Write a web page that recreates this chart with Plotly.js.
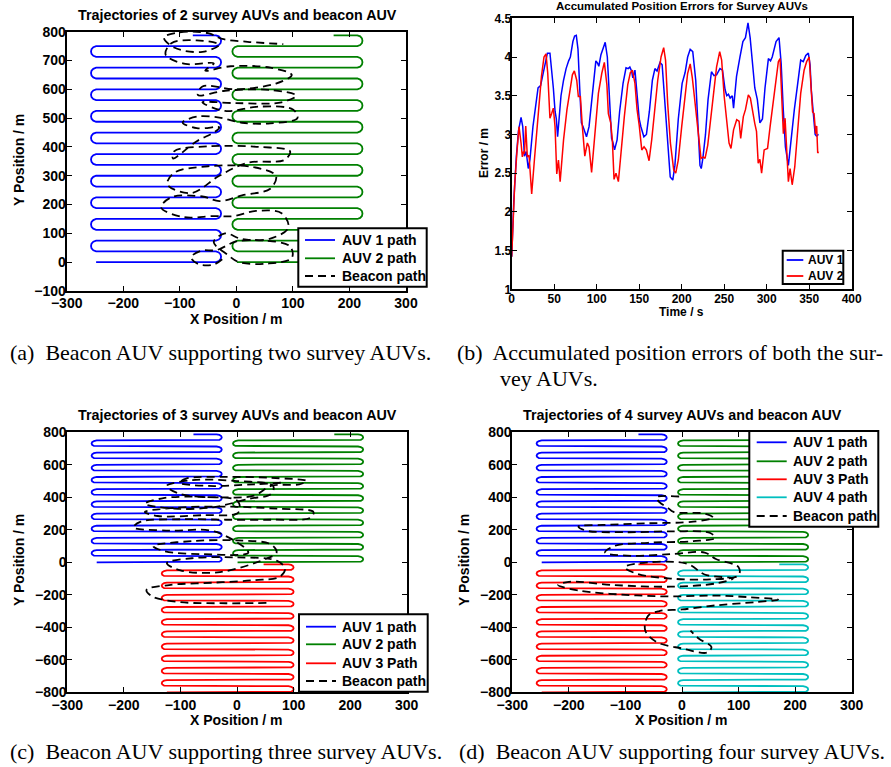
<!DOCTYPE html>
<html><head><meta charset="utf-8">
<script src="https://cdn.plot.ly/plotly-3.0.1.min.js"></script>
<style>html,body{margin:0;padding:0;background:#fff;}#chart{width:891px;height:767px;}</style>
</head><body><div id="chart"></div>
<script>
// ---------- data ----------
const upperLanesY = [0, 37.5, 75, 112.5, 150, 187.5, 225, 262.5, 300, 337.5, 375, 412.5, 450, 487.5, 525, 562.5, 600, 637.5, 675, 712.5, 750, 787.5];
const lowerLanesY = [-800, -762.5, -725, -687.5, -650, -612.5, -575, -537.5, -500, -462.5, -425, -387.5, -350, -312.5, -275, -237.5, -200, -162.5, -125, -87.5, -50, -12.5];
// lawnmower x: [start x, west lane end, east lane end, final x]
const leftBlockX = [-248, -248, -36, -77];
const rightBlockX = [1, 2, 214, 172];
const midBlockX = [-124, -124, 91, 47];

// (a) beacon path
const beaconAx = [-25,-40,-68,-80,-62,-35, 0,50,95,98,55,5,-15,-40,-20, 10,60,92,80,35,-5, -40,-95,-133,-115,-60,-30, 10,60,70,30,-50,-110,-122,-80,-30, 20,85,95,40,-50,-110,-112,-70,-40, -30,-70,-95,-70,-30, 10,60,108,100,40,-20, -60,0,80,106,60,-20,-68, -60,0,70,98,60,-10,-55, -40,-90,-125,-115,-70,-30,-60,-110,-128,-100,-50,-25, 20,83];
const beaconAy = [10,-8,-6,17,40,42, 72,75,55,15,-5,0,25,70,100, 80,82,120,170,178,160, 160,157,190,225,228,212, 232,255,300,330,333,310,270,240,300, 345,355,385,400,402,385,360,420,450, 468,465,485,505,502, 484,482,500,530,540,525, 555,552,555,578,598,595,580, 610,600,620,650,675,680,665, 690,688,720,760,770,755,730,745,780,798,795,775, 765,757];
// (c) beacon path
const beaconCx = [52,-20,-100,-150,-160,-120,-40,30, 75,85,70,0,-80,-124,-100,-30, 50,70,60,0,-80,-148,-130,-60,20, -40,-120,-183,-170,-100,-20, 60,130,135,70,-20,-110,-163,-140,-60,0, 5,0,-60,-130,-163,-110,-40, 20,60,64,0,-80,-124,-100,-30,30, 60,110,123,60,-20,-90,-101,-50,30,80];
const beaconCy = [-250,-252,-245,-210,-170,-140,-125,-110, -90,-40,10,30,25,-5,-50,-60, 20,60,110,135,130,100,70,50,60, 190,195,215,250,265,262, 262,275,310,330,343,335,310,285,290,300, 330,380,402,395,360,330,340, 390,420,470,500,505,470,420,400,410, 470,480,500,520,526,515,490,470,480,490];
// (d) beacon path
const beaconDx = [-5,-45,-40,-25,-15, 40,55,20,-60,-140,-183,-170,-100,-20,50, 58,20,-60,-120,-136,-90,-20,40, 60,100,100,50,-20,-80,-101,-60,10, 40,90,60,-20,-120,-200,-219,-180,-100,-20,60, 120,170,130,60,0,-40, -60,-65,-45,0,45,52,30,15];
const beaconDy = [405,400,370,335,310, 300,275,250,240,230,220,195,185,190,180, 150,130,120,100,60,40,50,60, 20,-30,-80,-105,-100,-70,-30,0,-10, -75,-100,-130,-150,-140,-120,-140,-175,-200,-210,-205, -215,-230,-245,-265,-290,-300, -330,-420,-490,-530,-555,-520,-470,-420];

// (b) accumulated position errors
const timeAuv1 = [0,2.5,5.5,8,11,13,15,17,19.5,21.5,25,28,31,34,37,39.5,42,45,47,49,51,52.5,54,56,58,61,64,67,69,72,74,76,78,80,82,84,86,88,91,94,96,99,101,102.5,105,108,110,112.5,114.5,116,117.5,119,121,124,127,131,134.5,137,139,141,142.5,145,148,150,152,155.5,158.5,162,165.5,168.5,171,174.5,177,180,183.5,186.5,189.5,192,196,200.5,204,207,210,213,216.5,219,221.5,223,225,228,231,235,238,241,245,248,251,253,255,257,259.5,261,264.5,268.5,272,275,278,280.5,283,286,289,292,295,298,302,304.5,306.5,308.5,311,314.5,317,319.5,322,325.5,328.5,332.5,336.5,340,343,346,349,351,352.5,355,357,358.5,361];
const errorAuv1 = [1.42,2.15,2.72,3.05,3.22,3.1,2.72,2.78,2.56,2.68,3.1,3.35,3.6,3.63,3.8,3.95,4.05,4.05,3.85,3.6,3.3,3.2,2.97,3.2,3.5,3.7,3.85,3.95,4.0,4.2,4.27,4.28,4.1,3.6,3.15,3.1,3.04,2.97,3.1,3.4,3.66,3.95,3.92,3.88,4.03,4.12,4.19,4.0,3.6,3.3,2.95,2.9,2.8,2.93,3.3,3.66,3.86,3.85,3.87,3.82,3.73,3.83,3.45,3.2,3.1,2.97,3.0,3.3,3.7,3.85,3.82,3.93,3.9,3.45,2.84,2.45,2.41,2.6,3.2,3.66,3.8,4.0,4.1,4.07,3.7,3.2,2.6,2.56,2.7,3.0,3.45,3.81,3.76,3.77,3.85,3.83,3.58,3.5,3.52,3.47,3.5,3.34,3.75,4.0,4.2,4.25,4.44,4.25,3.96,3.6,3.45,3.15,3.2,3.6,3.98,3.95,4.0,4.1,4.2,4.25,3.92,3.32,2.84,2.6,2.93,3.32,3.66,3.96,3.94,4.02,4.05,3.9,3.57,3.2,3.0,2.98,3.0];
const timeAuv2 = [0,3.5,6,8.6,11,12.5,14,15,16.5,18.4,20.4,23.5,26.7,30.6,35,38,40.4,42.4,45,47,49,51,53,55,57,61,65,68.6,71.4,73.7,76.5,78.4,80.8,83,86,89,91,94,98,102,106,109,112,113.7,116.5,118.4,120.4,122.7,125.5,128.6,132.5,136.5,139.6,142,145,147.5,150,153,155.7,158.4,161.6,164.7,168.6,171.8,175.7,178.8,181,183.5,186.7,189,190.6,193,196,200,204,207,210,212.5,214.9,217.6,220.4,222.7,225.5,227.5,230.6,233,237,241,244.7,247,250,253,255.7,258,261,264.7,267.5,269.4,272.5,275,278.4,280.8,283,286,288,290,292,294,297,301,304,308,311,313.7,315.7,317.6,319.6,321.6,323.5,325.5,327.5,330,333,336.5,340,344,347,350,352,354,355.7,357.6,358.8,360,361];
const errorAuv2 = [1.42,2.35,2.75,3.1,2.89,2.71,2.78,2.75,3.11,2.71,2.73,2.23,2.67,3.23,3.75,4.0,4.04,3.79,3.21,3.27,3.34,3.1,2.49,2.67,2.39,2.93,3.32,3.57,3.77,3.82,3.7,3.49,3.49,3.12,2.72,2.89,2.84,2.51,3.06,3.53,3.79,3.93,3.64,3.27,3.15,2.93,2.42,2.5,2.39,2.8,3.23,3.64,3.8,3.83,3.66,3.32,3.12,2.8,2.84,2.8,2.66,2.93,3.32,3.7,4.0,4.12,3.96,3.4,2.89,2.63,2.54,2.5,2.67,3.1,3.49,3.79,3.91,3.73,3.49,3.19,2.89,2.69,2.71,2.69,2.86,3.1,3.53,3.87,4.07,3.96,3.49,3.14,2.89,2.82,3.06,3.19,3.17,2.95,3.23,3.32,3.51,3.47,3.32,3.14,3.04,2.63,2.68,2.5,2.8,2.82,3.1,3.45,3.73,3.94,3.98,3.57,3.01,3.21,2.76,2.39,2.56,2.35,2.58,3.06,3.53,3.83,3.94,4.0,3.66,3.29,3.27,3.01,3.11,2.76,2.78];

// tick values
const trajXTicks = [-300,-200,-100,0,100,200,300];
const trajAYTicks = [-100,0,100,200,300,400,500,600,700,800];
const trajCDYTicks = [-800,-600,-400,-200,0,200,400,600,800];
const timeTicks = [0,50,100,150,200,250,300,350,400];
const errorTicks = [1,1.5,2,2.5,3,3.5,4,4.5];

// legend labels
const legendA = ['AUV 1 path', 'AUV 2 path', 'Beacon path'];
const legendB = ['AUV 1', 'AUV 2'];
const legendC = ['AUV 1 path', 'AUV 2 path', 'AUV 3 Path', 'Beacon path'];
const legendD = ['AUV 1 path', 'AUV 2 path', 'AUV 3 Path', 'AUV 4 path', 'Beacon path'];

// ---------- helpers ----------
const W = 891, H = 767;
const SANS = 'Liberation Sans, Arial, Helvetica, sans-serif';
const SERIF = 'Liberation Serif, Times New Roman, serif';
const BLUE = '#0000ff', GREEN = '#008000', RED = '#ff0000', CYAN = '#00bfbf';
const BEACON_DASH = '8px,5px';

function lawnmower(lanes, xs4, bulge) {
  const [xFirst, xWest, xEast, xLast] = xs4;
  const X = [], Y = [];
  const turn = [[0.55,0.1],[0.9,0.28],[1,0.5],[0.9,0.72],[0.55,0.9]];
  for (let i = 0; i < lanes.length; i++) {
    const east = i % 2 === 0;
    const xa = i === 0 ? xFirst : (east ? xWest : xEast);
    const xb = i === lanes.length - 1 ? xLast : (east ? xEast : xWest);
    X.push(xa, xb); Y.push(lanes[i], lanes[i]);
    if (i < lanes.length - 1) {
      const d = lanes[i+1] - lanes[i], s = east ? 1 : -1;
      turn.forEach(([fx, fy]) => { X.push(xb + s*bulge*fx); Y.push(lanes[i] + d*fy); });
    }
  }
  return {x: X, y: Y};
}
function pathTrace(p, color, name, xa, ya) {
  return {type:'scatter', mode:'lines', x:p.x, y:p.y, name, xaxis:xa, yaxis:ya,
          line:{color, width:1.8}, hoverinfo:'skip', showlegend:false};
}
function beaconTrace(x, y, xa, ya) {
  return {type:'scatter', mode:'lines', x, y, name:'Beacon path', xaxis:xa, yaxis:ya, showlegend:false,
          line:{color:'black', width:1.8, dash:BEACON_DASH, shape:'spline', smoothing:1}, hoverinfo:'skip'};
}
function axis(dom, range, ticks, anchor, fs, standoff) {
  return {domain:dom, range, tickvals:ticks, anchor, showline:true, linewidth:2, linecolor:'black',
          mirror:'ticks', ticks:'inside', ticklen:5, tickwidth:1, tickcolor:'black', showgrid:false,
          zeroline:false, fixedrange:true, ticklabelstandoff:standoff,
          tickfont:{family:SANS, size:fs, color:'black', weight:'bold'}};
}
const px = v => v / W, py = v => 1 - v / H;
function ann(text, x, y, opts) {
  return Object.assign({text, x:px(x), y:py(y), xref:'paper', yref:'paper', showarrow:false,
    xanchor:'center', yanchor:'middle', font:{family:SANS, size:14, color:'black', weight:'bold'}}, opts||{});
}
const shapes = [], annotations = [];
// legend drawn as a boxed key: box [x0,y0,x1,y1], sample line x range, text x, row centres
function addKey(labels, colors, box, lineX, textX, rows, fs) {
  shapes.push({type:'rect', xref:'paper', yref:'paper', layer:'above', x0:px(box[0]), x1:px(box[2]), y0:py(box[1]), y1:py(box[3]),
               fillcolor:'white', line:{color:'black', width:2}});
  labels.forEach((lab, i) => {
    const isBeacon = colors[i] === 'black';
    shapes.push({type:'line', xref:'paper', yref:'paper', layer:'above', x0:px(lineX[0]), x1:px(lineX[1]), y0:py(rows[i]), y1:py(rows[i]),
                 line:{color:colors[i], width:isBeacon ? 2 : 1.8, dash:isBeacon ? BEACON_DASH : 'solid'}});
    annotations.push(ann(lab, textX, rows[i], {xanchor:'left', font:{family:SANS, size:fs, color:'black', weight:'bold'}}));
  });
}

const BULGE = 9;
const traces = [
  // (a)
  pathTrace(lawnmower(upperLanesY, leftBlockX, BULGE), BLUE, 'AUV 1 path', 'x', 'y'),
  pathTrace(lawnmower(upperLanesY, rightBlockX, BULGE), GREEN, 'AUV 2 path', 'x', 'y'),
  beaconTrace(beaconAx, beaconAy, 'x', 'y'),
  // (b)
  {type:'scatter', mode:'lines', x:timeAuv1, y:errorAuv1, name:'AUV 1', xaxis:'x2', yaxis:'y2', showlegend:false, line:{color:BLUE, width:1.5}},
  {type:'scatter', mode:'lines', x:timeAuv2, y:errorAuv2, name:'AUV 2', xaxis:'x2', yaxis:'y2', showlegend:false, line:{color:RED, width:1.5}},
  // (c)
  pathTrace(lawnmower(upperLanesY, leftBlockX, BULGE), BLUE, 'AUV 1 path', 'x3', 'y3'),
  pathTrace(lawnmower(upperLanesY, rightBlockX, BULGE), GREEN, 'AUV 2 path', 'x3', 'y3'),
  pathTrace(lawnmower(lowerLanesY, midBlockX, BULGE), RED, 'AUV 3 Path', 'x3', 'y3'),
  beaconTrace(beaconCx, beaconCy, 'x3', 'y3'),
  // (d)
  pathTrace(lawnmower(upperLanesY, leftBlockX, BULGE), BLUE, 'AUV 1 path', 'x4', 'y4'),
  pathTrace(lawnmower(upperLanesY, rightBlockX, BULGE), GREEN, 'AUV 2 path', 'x4', 'y4'),
  pathTrace(lawnmower(lowerLanesY, leftBlockX, BULGE), RED, 'AUV 3 Path', 'x4', 'y4'),
  pathTrace(lawnmower(lowerLanesY, rightBlockX, BULGE), CYAN, 'AUV 4 path', 'x4', 'y4'),
  beaconTrace(beaconDx, beaconDy, 'x4', 'y4'),
];

addKey(legendA, [BLUE, GREEN, 'black'], [298.3, 228.3, 426.7, 286.7], [305, 335], 340, [240, 258.3, 276], 14);
addKey(legendB, [BLUE, RED], [782.7, 250.7, 843.3, 284], [786.7, 803.3], 806, [260, 276], 12);
addKey(legendC, [BLUE, GREEN, RED, 'black'], [299, 614.3, 427.7, 691.7], [306, 336], 340, [626.7, 644.3, 663.3, 681], 14);
addKey(legendD, [BLUE, GREEN, RED, CYAN, 'black'], [749.3, 431, 878.3, 526.7], [756.7, 786.7], 790.7, [442.3, 461.3, 479.3, 497.3, 516], 14);

const dA = [[px(66.7), px(406)], [py(291), py(31.7)]];
const dB = [[px(511.7), px(851.7)], [py(289.3), py(18.3)]];
const dC = [[px(67.3), px(406.7)], [py(692.3), py(432.3)]];
const dD = [[px(512.3), px(851.7)], [py(692.3), py(432.3)]];

const titleFont = {family:SANS, size:14.3, color:'black', weight:'bold'};
const smallFont = {family:SANS, size:12, color:'black', weight:'bold'};
const capFont = {family:SERIF, size:22, color:'black'};
annotations.push(
  ann('Trajectories of 2 survey AUVs and beacon AUV', 237, 15, {font:titleFont}),
  ann('Accumulated Position Errors for Survey AUVs', 682, 6, {font:{family:SANS, size:11.5, color:'black', weight:'bold'}}),
  ann('Trajectories of 3 survey AUVs and beacon AUV', 237, 415, {font:titleFont}),
  ann('Trajectories of 4 survey AUVs and beacon AUV', 682, 415, {font:titleFont}),
  ann('X Position / m', 236, 319),
  ann('Y Position / m', 19, 160, {textangle:-90}),
  ann('Time / s', 681, 312, {font:smallFont}),
  ann('Error / m', 484, 153, {textangle:-90, font:smallFont}),
  ann('X Position / m', 236, 720),
  ann('Y Position / m', 19, 560, {textangle:-90}),
  ann('X Position / m', 681, 720),
  ann('Y Position / m', 464, 560, {textangle:-90}),
  ann('(a)\u00a0 Beacon AUV supporting two survey AUVs.', 8, 352, {xanchor:'left', font:capFont}),
  ann('(b)\u00a0 Accumulated position errors of both the sur-', 455, 352, {xanchor:'left', font:capFont}),
  ann('vey AUVs.', 498, 378, {xanchor:'left', font:capFont}),
  ann('(c)\u00a0 Beacon AUV supporting three survey AUVs.', 8, 751, {xanchor:'left', font:capFont}),
  ann('(d)\u00a0 Beacon AUV supporting four survey AUVs.', 457, 751, {xanchor:'left', font:capFont})
);

const layout = {
  width:W, height:H, margin:{l:0, r:0, t:0, b:0}, paper_bgcolor:'white', plot_bgcolor:'white',
  showlegend:false, hovermode:false,
  xaxis: axis(dA[0], [-300,300], trajXTicks, 'y', 14, -2),
  yaxis: axis(dA[1], [-100,800], trajAYTicks, 'x', 14, -4),
  xaxis2: axis(dB[0], [0,400], timeTicks, 'y2', 12, -3),
  yaxis2: axis(dB[1], [1,4.5], errorTicks, 'x2', 12, -4),
  xaxis3: axis(dC[0], [-300,300], trajXTicks, 'y3', 14, -1),
  yaxis3: axis(dC[1], [-800,800], trajCDYTicks, 'x3', 14, -4),
  xaxis4: axis(dD[0], [-300,300], trajXTicks, 'y4', 14, -1),
  yaxis4: axis(dD[1], [-800,800], trajCDYTicks, 'x4', 14, -4),
  shapes, annotations
};
Plotly.newPlot('chart', traces, layout, {staticPlot:true, displayModeBar:false});
</script></body></html>
